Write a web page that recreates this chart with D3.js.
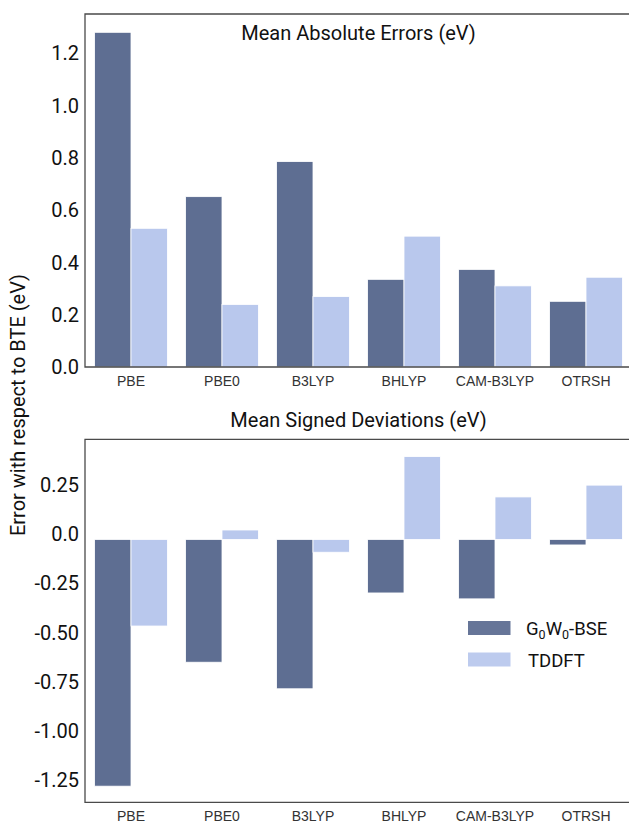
<!DOCTYPE html>
<html>
<head>
<meta charset="utf-8">
<style>
  body { margin: 0; background: #fff; }
  svg text { font-family: Roboto, "Noto Sans", sans-serif; }
  .xlab text { font-family: "Liberation Sans", Arial, sans-serif; font-size: 14px; fill: #333; }
  .ylab text { font-size: 20px; fill: #111; }
  .frame { fill: none; stroke: #4a4a4a; stroke-width: 1.3px; }
</style>
</head>
<body>
<svg width="629" height="823"></svg>
<script src="https://d3js.org/d3.v7.min.js"></script>
<script>
const methods = ["PBE", "PBE0", "B3LYP", "BHLYP", "CAM-B3LYP", "OTRSH"];
const series = ["G0W0-BSE", "TDDFT"];
const maeGW = [1.279, 0.651, 0.785, 0.335, 0.373, 0.251];
const maeTD = [0.530, 0.239, 0.269, 0.500, 0.310, 0.343];
const msdGW = [-1.254, -0.624, -0.759, -0.272, -0.302, -0.028];
const msdTD = [-0.440, 0.048, -0.065, 0.421, 0.216, 0.276];
const maeTicks = [0.0, 0.2, 0.4, 0.6, 0.8, 1.0, 1.2];
const msdTicks = [0.25, 0.0, -0.25, -0.5, -0.75, -1.0, -1.25];
const colors = ["#5e6e92", "#b9c8ed"];

const svg = d3.select("svg");

const x = d3.scaleBand().domain(methods).range([85.5, 631.5]).padding(0);
const x1 = d3.scaleBand().domain(series)
  .range([x.bandwidth() * 0.1, x.bandwidth() * 0.9]).padding(0);

function panel(cfg) {
  const g = svg.append("g");
  const y = d3.scaleLinear().domain(cfg.domain).range([cfg.bottom, cfg.top]);
  const rows = methods.map((m, i) => ({ m, vals: [cfg.gw[i], cfg.td[i]] }));

  g.selectAll("g.grp").data(rows).join("g")
    .attr("class", "grp")
    .attr("transform", d => `translate(${x(d.m)},0)`)
    .selectAll("rect")
    .data(d => d.vals.map((v, j) => ({ s: series[j], v, j })))
    .join("rect")
    .attr("x", d => x1(d.s))
    .attr("width", x1.bandwidth())
    .attr("y", d => y(Math.max(0, d.v)))
    .attr("height", d => Math.abs(y(d.v) - y(0)))
    .attr("fill", d => colors[d.j])
    .attr("stroke", "#fff")
    .attr("stroke-width", 0.8);

  // frame: left, top, bottom (right side falls outside the page)
  g.append("path").attr("class", "frame")
    .attr("d", `M640,${cfg.top}H85V${cfg.bottom}H640`);

  const ya = g.append("g").attr("class", "ylab")
    .attr("transform", "translate(85,0)")
    .call(d3.axisLeft(y).tickValues(cfg.ticks).tickSize(0).tickPadding(6)
      .tickFormat(cfg.fmt));
  ya.select(".domain").remove();
  ya.selectAll("text").attr("dy", cfg.labelShift);

  const xa = g.append("g").attr("class", "xlab")
    .attr("transform", `translate(0,${cfg.bottom})`)
    .call(d3.axisBottom(x).tickSize(0).tickPadding(9));
  xa.select(".domain").remove();

  svg.append("text")
    .attr("x", 358.5).attr("y", cfg.titleY)
    .attr("text-anchor", "middle").attr("font-size", 20).attr("fill", "#111")
    .text(cfg.title);
  return y;
}

panel({
  domain: [0, 1.349], top: 14, bottom: 367, gw: maeGW, td: maeTD,
  ticks: maeTicks, fmt: d3.format(".1f"), labelShift: "0.34em",
  title: "Mean Absolute Errors (eV)", titleY: 40
});

panel({
  domain: [-1.336, 0.509], top: 439.3, bottom: 802.3, gw: msdGW, td: msdTD,
  ticks: msdTicks, fmt: d => d === 0 ? "0.0" : d3.format(".2f")(d).replace("−", "-"),
  labelShift: "0.06em",
  title: "Mean Signed Deviations (eV)", titleY: 427
});

svg.append("text")
  .attr("transform", "translate(25,405) rotate(-90)")
  .attr("text-anchor", "middle").attr("font-size", 20).attr("fill", "#111")
  .text("Error with respect to BTE (eV)");

// legend
const leg = svg.append("g").attr("transform", "translate(468,621)");
const items = leg.selectAll("g").data(series).join("g")
  .attr("transform", (d, i) => `translate(0,${i * 31.5})`);
items.append("rect").attr("width", 42.5).attr("height", 14)
  .attr("fill", (d, i) => colors[i]).attr("opacity", 0.95);
const lt = items.append("text").attr("x", 58).attr("y", 14)
  .attr("font-size", 18.5).attr("fill", "#111");
lt.filter((d, i) => i === 0).each(function () {
  const t = d3.select(this);
  t.append("tspan").text("G");
  t.append("tspan").attr("font-size", 12.5).attr("dy", 4).text("0");
  t.append("tspan").attr("dy", -4).text("W");
  t.append("tspan").attr("font-size", 12.5).attr("dy", 4).text("0");
  t.append("tspan").attr("dy", -4).text("-BSE");
});
lt.filter((d, i) => i === 1).attr("x", 60).text(d => d);
</script>
</body>
</html>
